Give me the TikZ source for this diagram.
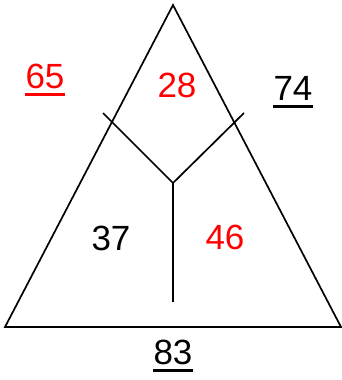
\documentclass[tikz,border=0pt]{standalone}
\usepackage{fontspec}
\setmainfont{Liberation Sans}
\usepackage{xcolor}
\usetikzlibrary{positioning,calc}

\begin{document}
\begin{tikzpicture}[
  x=1pt,y=-1pt,
  every node/.style={font=\fontsize{35}{42}\selectfont,inner sep=0pt},
  edge/.style={line width=1.7pt,line join=miter},
  uline/.style={line width=3pt},
  redtxt/.style={text=red}
]
\useasboundingbox (0,0) rectangle (342,380);
% triangle
\coordinate (top) at (173,5);
\coordinate (bl) at (5,327);
\coordinate (br) at (341,327);
\draw[edge] (top) -- (br) -- (bl) -- cycle;
% inner Y
\coordinate (mid) at (173,183);
\coordinate (armL) at (103,113);
\coordinate (armR) at (244,113);
\coordinate (foot) at (173,302);
\draw[edge] (armL) -- (mid) -- (armR);
\draw[edge] (mid) -- (foot);
% numbers
\node[redtxt] (n65) at (45,76) {65};
\node[redtxt] (n28) at (177,85) {28};
\node (n74) at (293,88) {74};
\node (n37) at (111,238) {37};
\node[redtxt] (n46) at (225,237) {46};
\node (n83) at (173,352) {83};
% underlines
\draw[uline,red] ([yshift=-6pt]n65.base west) -- ([yshift=-6pt]n65.base east);
\draw[uline] ([yshift=-6pt]n74.base west) -- ([yshift=-6pt]n74.base east);
\draw[uline] ([yshift=-6pt]n83.base west) -- ([yshift=-6pt]n83.base east);
\end{tikzpicture}
\end{document}
